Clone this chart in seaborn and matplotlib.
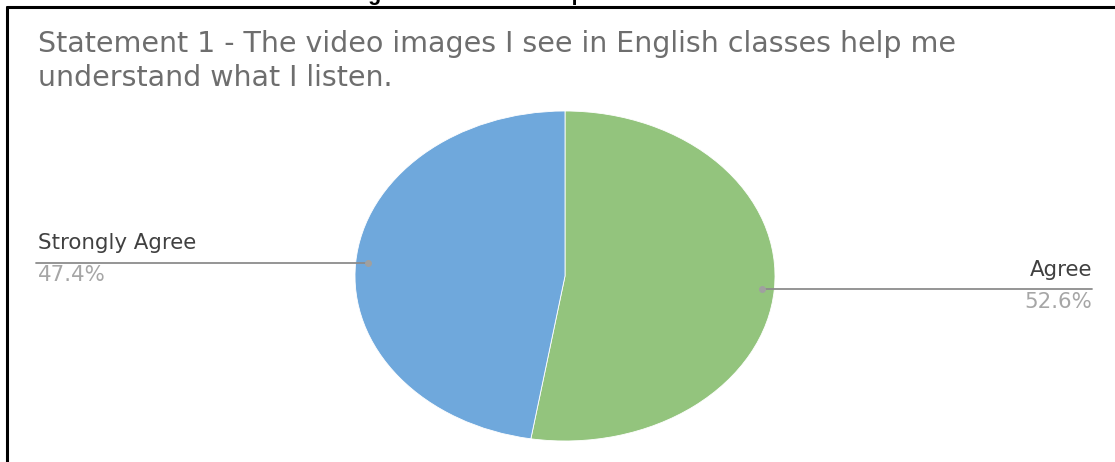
import matplotlib
matplotlib.use("Agg")
import matplotlib.pyplot as plt
from matplotlib.lines import Line2D
import numpy as np
import seaborn as sns

# Survey answers for statement 1
categories = ["Agree", "Strongly Agree"]
shares = [52.6, 47.4]
pct_labels = ["52.6%", "47.4%"]
title_lines = ["Statement 1 - The video images I see in English classes help me",
               "understand what I listen."]
caption = "Figure 1: Student Responses to Statement 1"

sns.set_theme(style="white")
plt.rcParams["font.family"] = ["DejaVu Sans"]
colors = ["#93C47D", "#6FA8DC"]

W, H = 1115, 462
fig = plt.figure(figsize=(W / 100, H / 100), dpi=100)
fig.patch.set_facecolor("white")
renderer = fig.canvas.get_renderer()


def fx(px):
    return px / W


def fy(py):
    return 1 - py / H


def fitted_size(s, width_px, base=12):
    """Font size at which s spans width_px pixels."""
    t = fig.text(0, 0, s, fontsize=base)
    w = t.get_window_extent(renderer=renderer).width
    t.remove()
    return base * width_px / w


# Pie drawn as an ellipse: centre (565, 276), radii 210 x 165 px
cx, cy, rx, ry = 565, 276, 210, 165
ax = fig.add_axes([fx(cx - rx), fy(cy + ry), 2 * rx / W, 2 * ry / H])
ax.pie(shares, colors=colors, startangle=90, counterclock=False,
       wedgeprops=dict(linewidth=0.6, edgecolor="white"))
ax.set_aspect("auto")
ax.set_xlim(-1, 1)
ax.set_ylim(-1, 1)
ax.axis("off")

# Frame around the chart (left and top edges)
fig.add_artist(Line2D([fx(7), fx(7)], [fy(7), fy(H + 5)], color="black", lw=2.2,
                      transform=fig.transFigure))
fig.add_artist(Line2D([fx(7), fx(W + 5)], [fy(7), fy(7)], color="black", lw=2.2,
                      transform=fig.transFigure))

# Caption above the frame, mostly outside the canvas
fig.text(fx(349), fy(0), caption, fontsize=15.5, fontweight="bold", color="black",
         family=["Liberation Sans", "DejaVu Sans"], ha="left", va="baseline")

# Title
title_size = fitted_size(title_lines[0], 915)
title_kw = dict(fontsize=title_size, color="#6E6E6E", ha="left", va="baseline")
fig.text(fx(38), fy(52), title_lines[0], **title_kw)
fig.text(fx(38), fy(86), title_lines[1], **title_kw)

# Leader lines and data labels
angles = []
start = 90.0
for s in shares:
    span = s / 100 * 360
    angles.append(start - span / 2)
    start -= span

label_size = fitted_size("Strongly Agree", 158)
label_specs = {
    "Agree": dict(end_x=1092, ha="right", name_y=276, pct_y=308),
    "Strongly Agree": dict(end_x=36, ha="left", name_y=249, pct_y=281),
}
for cat, pct, ang in zip(categories, pct_labels, angles):
    t = np.deg2rad(ang)
    dx = cx + 0.94 * rx * np.cos(t)
    dy = cy - 0.94 * ry * np.sin(t)
    spec = label_specs[cat]
    fig.add_artist(Line2D([fx(dx), fx(spec["end_x"])], [fy(dy), fy(dy)],
                          color="#8C8C8C", lw=1.3, transform=fig.transFigure))
    fig.add_artist(Line2D([fx(dx)], [fy(dy)], marker="o", markersize=4,
                          color="#A0A0A0", transform=fig.transFigure))
    tx = 38 if spec["ha"] == "left" else spec["end_x"]
    fig.text(fx(tx), fy(spec["name_y"]), cat, fontsize=label_size, color="#404040",
             ha=spec["ha"], va="baseline")
    fig.text(fx(tx), fy(spec["pct_y"]), pct, fontsize=label_size, color="#A6A6A6",
             ha=spec["ha"], va="baseline")

fig.savefig("out.png", dpi=100, facecolor="white")
